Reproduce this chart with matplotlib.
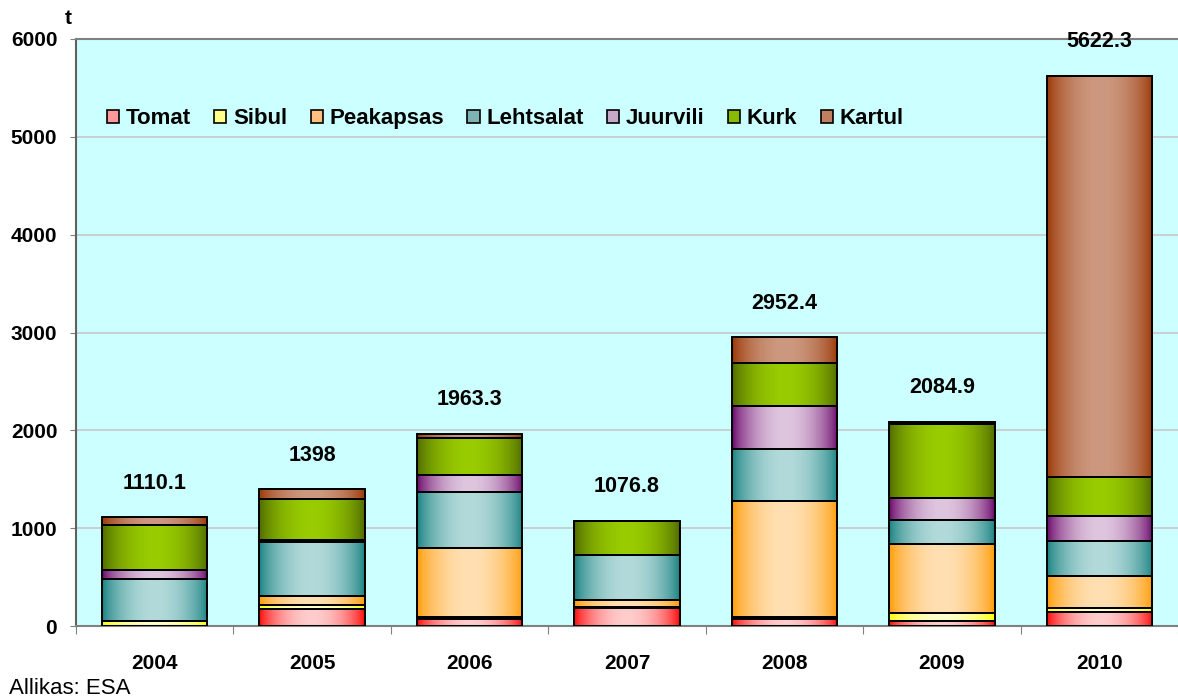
import numpy as np
import matplotlib
matplotlib.use("Agg")
from matplotlib import pyplot as plt
from matplotlib.colors import to_rgb
from matplotlib.patches import Patch

plt.rcParams["font.family"] = ["Liberation Sans", "DejaVu Sans"]

years = ["2004", "2005", "2006", "2007", "2008", "2009", "2010"]
totals = [1110.1, 1398, 1963.3, 1076.8, 2952.4, 2084.9, 5622.3]

series = ["Tomat", "Sibul", "Peakapsas", "Lehtsalat", "Juurvili", "Kurk", "Kartul"]
tomat = [0, 170, 75, 187, 72, 51, 141]
sibul = [55, 41, 15, 5, 20, 79, 46]
peakapsas = [0, 96, 710, 71, 1186, 708, 321]
lehtsalat = [422, 551, 569, 459, 531, 245, 363]
juurvili = [95, 20, 177, 0, 443, 228, 250]
kurk = [457, 417, 379, 355, 436, 750, 402]
kartul = [81, 103, 38, 0, 264, 24, 4099]
values = [tomat, sibul, peakapsas, lehtsalat, juurvili, kurk, kartul]

# (edge colour, centre colour) for the cylinder-like gradient
edge_cols = ["#FF0000", "#FFFF00", "#FF9900", "#137E7E", "#660066", "#4D6600", "#993300"]
mid_cols = ["#FFCCCC", "#FFFFCC", "#FFE0B3", "#B3DADA", "#DFC6DF", "#99CC00", "#CC9980"]
legend_cols = ["#FF9999", "#FFFF88", "#FFBF80", "#7FB3B3", "#C8A8C8", "#88BB00", "#C08060"]

fig = plt.figure(figsize=(11.78, 6.99), dpi=100)
ax = fig.add_axes([76 / 1178, 1 - 626 / 699, 1 - 76 / 1178, 587 / 699])
ax.set_facecolor("#CCFFFF")

x = np.arange(len(years))
bottom = np.zeros(len(years))
xs = np.linspace(0, 1, 200)
prof = np.sin(np.pi * xs) ** 0.7

for i, name in enumerate(series):
    vals = np.array(values[i], dtype=float)
    bars = ax.bar(x, vals, width=0.67, bottom=bottom, facecolor="none",
                  edgecolor="black", linewidth=1.4, zorder=3)
    e = np.array(to_rgb(edge_cols[i]))
    m = np.array(to_rgb(mid_cols[i]))
    grad = e[None, :] + (m - e)[None, :] * prof[:, None]
    img = grad[None, :, :]
    for rect in bars:
        if rect.get_height() <= 0:
            continue
        x0, y0 = rect.get_x(), rect.get_y()
        ax.imshow(img, extent=[x0, x0 + rect.get_width(), y0, y0 + rect.get_height()],
                  aspect="auto", zorder=2, interpolation="bilinear")
    bottom += vals

for xi, tot in zip(x, totals):
    ax.annotate(f"{tot:g}", (xi, tot), xytext=(0, 24.5), textcoords="offset points",
                ha="center", va="center", fontsize=15.5, fontweight="bold")

ax.set_xlim(-0.5, len(years) - 0.5)
ax.set_ylim(0, 6000)
ax.set_yticks(np.arange(0, 6001, 1000))
ax.yaxis.grid(True, color="#C8C8C8", linewidth=1.2, zorder=0)
ax.set_axisbelow(True)
ax.tick_params(axis="y", direction="out", length=4.5, color="#808080",
               labelsize=15, pad=9)
for lab in ax.get_yticklabels():
    lab.set_fontweight("bold")

ax.set_xticks(np.arange(-0.5, len(years), 1.0))
ax.set_xticklabels([])
ax.tick_params(axis="x", which="major", direction="out", length=6, color="#808080")
ax.set_xticks(x, minor=True)
ax.set_xticklabels(years, minor=True, fontsize=15, fontweight="bold")
ax.tick_params(axis="x", which="minor", length=0, pad=20)

for s in ["left", "bottom", "top"]:
    ax.spines[s].set_color("#808080")
    ax.spines[s].set_linewidth(1.5)
ax.spines["right"].set_visible(False)
ax.spines["left"].set_color("#606060")

handles = [Patch(facecolor=c, edgecolor="black", linewidth=1.2) for c in legend_cols]
ax.legend(handles, series, loc="center left", bbox_to_anchor=(0.028, 0.864),
          ncol=7, frameon=False, prop={"size": 16, "weight": "bold"},
          handlelength=0.55, handleheight=0.55, handletextpad=0.3,
          columnspacing=1.05, borderpad=0, borderaxespad=0)

fig.text(68 / 1178, 1 - 18 / 699, "t", fontsize=15, fontweight="bold",
         ha="center", va="center")
fig.text(9 / 1178, 1 - 688 / 699, "Allikas: ESA", fontsize=16,
         ha="left", va="center")

fig.savefig("out.png", dpi=100)
